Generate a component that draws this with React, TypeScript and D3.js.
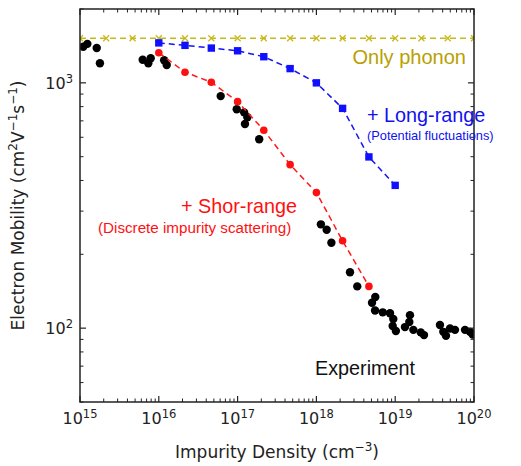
import React from "react";
import * as d3 from "d3";

const phononX = [1e15, 2.15e15, 4.64e15, 1e16, 2.15e16, 4.64e16, 1e17, 2.15e17, 4.64e17, 1e18, 2.15e18, 4.64e18, 1e19, 2.15e19, 4.64e19, 1e20];
const phononY = [1520, 1520, 1520, 1520, 1520, 1520, 1520, 1520, 1520, 1520, 1520, 1520, 1520, 1520, 1520, 1520];

const longX = [1e16, 2.15e16, 4.64e16, 1e17, 2.15e17, 4.64e17, 1e18, 2.15e18, 4.64e18, 1e19];
const longY = [1455, 1422, 1386, 1351, 1278, 1143, 1000, 787, 499, 382];

const shortX = [1e16, 2.15e16, 4.64e16, 1e17, 2.15e17, 4.64e17, 1e18, 2.15e18, 4.64e18];
const shortY = [1327, 1105, 1006, 838, 641, 464, 357, 227, 148];

const expX = [1.10e15, 1.24e15, 1.63e15, 1.79e15, 6.25e15, 7.89e15, 7.36e15, 1.17e16, 1.26e16, 6.1e16, 9.75e16, 1.21e17, 1.33e17, 1.24e17, 1.88e17,
  1.14e18, 1.35e18, 1.55e18, 2.67e18, 3.30e18, 5.59e18, 5.08e18, 5.55e18, 6.94e18, 8.59e18, 9.46e18, 9.29e18, 1.02e19, 1.33e19, 1.54e19, 1.51e19,
  1.70e19, 2.11e19, 2.32e19, 3.70e19, 4.08e19, 4.41e19, 4.96e19, 5.74e19, 7.69e19, 8.90e19, 9.62e19];
const expY = [1403, 1442, 1386, 1202, 1242, 1259, 1202, 1236, 1183, 883, 780, 758, 724, 680, 589,
  265, 252, 223, 169, 148, 134, 127, 118, 116, 115, 109, 102, 97.3, 101, 113, 106,
  98.4, 96.1, 93.7, 103, 96.6, 93.1, 99.7, 98.4, 98.4, 96.6, 94.2];

const xMajor = [1e15, 1e16, 1e17, 1e18, 1e19, 1e20];
const xExp = ["15", "16", "17", "18", "19", "20"];
const yMajor = [100, 1000];
const yExp = ["2", "3"];

const L = 80, R = 474, T = 9, B = 402;

export default function App() {
  const x = d3.scaleLog().domain([1e15, 1e20]).range([L, R]);
  const y = d3.scaleLog().domain([50, 2000]).range([B, T]);
  const line = d3.line<[number, number]>().x(d => x(d[0])).y(d => y(d[1]));

  const xMinor: number[] = [];
  for (let e = 15; e < 20; e++) for (let k = 2; k <= 9; k++) xMinor.push(k * Math.pow(10, e));
  const yMinor: number[] = [];
  for (const e of [1, 2, 3]) for (let k = 1; k <= 9; k++) {
    const v = k * Math.pow(10, e);
    if (v >= 50 && v <= 2000 && k !== 1) yMinor.push(v);
  }

  const ph = phononX.map((v, i) => [v, phononY[i]] as [number, number]);
  const lo = longX.map((v, i) => [v, longY[i]] as [number, number]);
  const sh = shortX.map((v, i) => [v, shortY[i]] as [number, number]);

  const tickFont = "DejaVu Sans, sans-serif";
  const annFont = "Liberation Sans, Arial, sans-serif";

  return (
    <svg width={521} height={466} style={{ position: "absolute", left: 0, top: 0, background: "#fff" }}>
      <defs>
        <clipPath id="clip"><rect x={L} y={T} width={R - L} height={B - T} /></clipPath>
      </defs>
      <g clipPath="url(#clip)">
        <path d={line(ph) || ""} fill="none" stroke="#c8b91a" strokeWidth={1.6} strokeDasharray="6,4" />
        {ph.map((d, i) => (
          <g key={"p" + i} transform={`translate(${x(d[0])},${y(d[1])})`} stroke="#c8b91a" strokeWidth={1.3}>
            <line x1={-3} y1={-3} x2={3} y2={3} />
            <line x1={-3} y1={3} x2={3} y2={-3} />
          </g>
        ))}
        {expX.map((v, i) => (
          <circle key={"e" + i} cx={x(v)} cy={y(expY[i])} r={4.2} fill="#000" />
        ))}
        <path d={line(lo) || ""} fill="none" stroke="#1515f0" strokeWidth={1.5} strokeDasharray="6,4" />
        {lo.map((d, i) => (
          <rect key={"l" + i} x={x(d[0]) - 3.7} y={y(d[1]) - 3.7} width={7.4} height={7.4} fill="#1010ff" />
        ))}
        <path d={line(sh) || ""} fill="none" stroke="#ff1a1a" strokeWidth={1.5} strokeDasharray="6,4" />
        {sh.map((d, i) => (
          <circle key={"s" + i} cx={x(d[0])} cy={y(d[1])} r={3.8} fill="#ff1010" />
        ))}
      </g>

      <rect x={L} y={T} width={R - L} height={B - T} fill="none" stroke="#222" strokeWidth={1.5} />

      {xMajor.map((v, i) => (
        <g key={"xm" + i}>
          <line x1={x(v)} x2={x(v)} y1={B} y2={B - 6} stroke="#222" strokeWidth={1.2} />
          <line x1={x(v)} x2={x(v)} y1={T} y2={T + 6} stroke="#222" strokeWidth={1.2} />
          <text x={x(v)} y={424} textAnchor="middle" fontFamily={tickFont} fontSize={16} fill="#222">
            10<tspan dy={-6} fontSize={11.5}>{xExp[i]}</tspan>
          </text>
        </g>
      ))}
      {xMinor.map((v, i) => (
        <g key={"xn" + i}>
          <line x1={x(v)} x2={x(v)} y1={B} y2={B - 3.5} stroke="#222" strokeWidth={1} />
          <line x1={x(v)} x2={x(v)} y1={T} y2={T + 3.5} stroke="#222" strokeWidth={1} />
        </g>
      ))}
      {yMajor.map((v, i) => (
        <g key={"ym" + i}>
          <line x1={L} x2={L + 6} y1={y(v)} y2={y(v)} stroke="#222" strokeWidth={1.2} />
          <line x1={R} x2={R - 6} y1={y(v)} y2={y(v)} stroke="#222" strokeWidth={1.2} />
          <text x={73} y={y(v) + 6} textAnchor="end" fontFamily={tickFont} fontSize={16} fill="#222">
            10<tspan dy={-6} fontSize={11.5}>{yExp[i]}</tspan>
          </text>
        </g>
      ))}
      {yMinor.map((v, i) => (
        <g key={"yn" + i}>
          <line x1={L} x2={L + 3.5} y1={y(v)} y2={y(v)} stroke="#222" strokeWidth={1} />
          <line x1={R} x2={R - 3.5} y1={y(v)} y2={y(v)} stroke="#222" strokeWidth={1} />
        </g>
      ))}

      <text x={(L + R) / 2} y={458} textAnchor="middle" fontFamily={tickFont} fontSize={17} fill="#222">
        Impurity Density (cm<tspan dy={-7} fontSize={12}>−3</tspan><tspan dy={7}>)</tspan>
      </text>
      <text transform={`translate(24,${(T + B) / 2}) rotate(-90)`} textAnchor="middle" fontFamily={tickFont} fontSize={17} fill="#222">
        Electron Mobility (cm<tspan dy={-7} fontSize={12}>2</tspan><tspan dy={7}>V</tspan><tspan dy={-7} fontSize={12}>−1</tspan><tspan dy={7}>s</tspan><tspan dy={-7} fontSize={12}>−1</tspan><tspan dy={7}>)</tspan>
      </text>

      <text x={352.5} y={63.5} fontFamily={annFont} fontSize={20} fill="#b8a000">Only phonon</text>
      <text x={367} y={121.5} fontFamily={annFont} fontSize={19.8} fill="#1010f0">+ Long-range</text>
      <text x={367} y={140} fontFamily={annFont} fontSize={12.8} fill="#1010f0">(Potential fluctuations)</text>
      <text x={181} y={212.5} fontFamily={annFont} fontSize={19.8} fill="#ff1010">+ Shor-range</text>
      <text x={98} y={233} fontFamily={annFont} fontSize={15.2} fill="#ff1010">(Discrete impurity scattering)</text>
      <text x={315} y={375} fontFamily={annFont} fontSize={19.8} fill="#111">Experiment</text>
    </svg>
  );
}
